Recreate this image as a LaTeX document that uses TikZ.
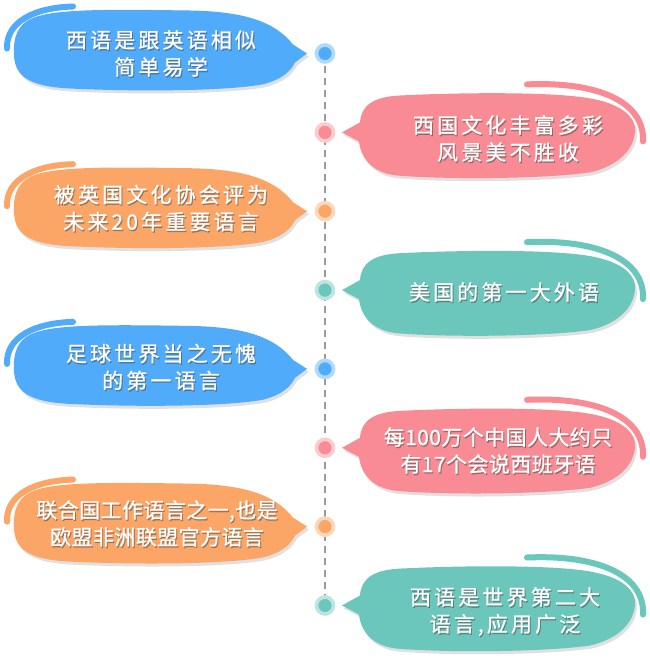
\documentclass[tikz,border=0pt]{standalone}
\usepackage{fontspec}
\newfontfamily\cjk[LetterSpace=15,FakeBold=0.9]{Noto Sans CJK SC}
\newfontfamily\cjkt[LetterSpace=2,FakeBold=0.9]{Noto Sans CJK SC}
\usetikzlibrary{backgrounds}
\definecolor{bblue}{HTML}{50ACFA}
\definecolor{bpink}{HTML}{F88B93}
\definecolor{borange}{HTML}{FBA666}
\definecolor{bteal}{HTML}{6BC6BC}
\definecolor{tlgray}{HTML}{9A9A9A}
\def\LPath{(307,0) -- (293,-9) .. controls (274,-33) and (242,-42) .. (190,-43) .. controls (120,-44) and (62,-45) .. (37,-37) .. controls (17,-31) and (13,-16) .. (14,2) .. controls (15,22) and (28,33) .. (70,35) .. controls (130,38) and (222,38) .. (262,31) .. controls (283,26) and (291,17) .. (295,9) -- cycle}
\def\RPath{(342,0) -- (360,-10) .. controls (361,-26) and (372,-36) .. (402,-37) .. controls (462,-40) and (560,-41) .. (595,-33) .. controls (624,-27) and (636,-14) .. (635,-1) .. controls (634,16) and (620,33) .. (590,40) .. controls (540,47) and (440,47) .. (396,43) .. controls (372,40) and (361,26) .. (359,9) -- cycle}
\def\LArc{(73,-47) .. controls (35,-46) and (6,-32) .. (7,-5)}
\def\RArc{(527,-48) .. controls (595,-51) and (645,-32) .. (643,9)}
\newcommand\LBub[2]{%
  \begin{scope}[shift={(0,#2)}]
    \begin{scope}[shift={(2,3)}]\fill[bubshadow] \LPath;\end{scope}
    \fill[#1] \LPath;
    \draw[arcline,#1] \LArc;
  \end{scope}}
\newcommand\RBub[2]{%
  \begin{scope}[shift={(0,#2)}]
    \begin{scope}[shift={(2,3)}]\fill[bubshadow] \RPath;\end{scope}
    \fill[#1] \RPath;
    \draw[arcline,#1] \RArc;
  \end{scope}}
\newcommand\BText[5]{%
  \node[txtshadow,font=#4] (#1s) at ([shift={(1,1.4)}]#2,#3) {#5};
  \node[txt,font=#4] (#1) at (#2,#3) {#5};}
\tikzset{
  bubshadow/.style={black,opacity=0.12},
  arcline/.style={line width=6pt,line cap=round},
  txt/.style={text=white,align=center,inner sep=0pt},
  txtshadow/.style={text=black!70,text opacity=0.5,align=center,inner sep=0pt},
  tdot/.style={circle,inner sep=0pt,minimum size=17pt,line width=3.6pt,fill=#1,draw=#1!45!white},
  timeline/.style={draw=tlgray,line width=2pt,dash pattern=on 7pt off 5pt},
}
\def\NF{\cjk\fontsize{21}{27}\selectfont}
\def\TF{\cjkt\fontsize{21}{27}\selectfont}
\begin{document}
\begin{tikzpicture}[x=1pt,y=-1pt]
\useasboundingbox (0,0) rectangle (650,659);
% bubbles
\LBub{bblue}{53.5}
\RBub{bpink}{132.4}
\LBub{borange}{211.2}
\RBub{bteal}{290.1}
\LBub{bblue}{368.9}
\RBub{bpink}{447.8}
\LBub{borange}{526.6}
\RBub{bteal}{605.5}
% dots
\node[tdot=bblue] (d1) at (325,53.5) {};
\node[tdot=bpink] (d2) at (325,132.4) {};
\node[tdot=borange] (d3) at (325,211.2) {};
\node[tdot=bteal] (d4) at (325,290.1) {};
\node[tdot=bblue] (d5) at (325,368.9) {};
\node[tdot=bpink] (d6) at (325,447.8) {};
\node[tdot=borange] (d7) at (325,526.6) {};
\node[tdot=bteal] (d8) at (325,605.5) {};
\begin{scope}[on background layer]
  \fill[white] (0,0) rectangle (650,659);
  \draw[timeline] (d1.center) -- (d8.center);
\end{scope}
% texts
\BText{t1}{161}{53.5}{\NF}{西语是跟英语相似\\简单易学}
\BText{t2}{508}{138.5}{\NF}{西国文化丰富多彩\\风景美不胜收}
\BText{t3}{161}{208}{\NF}{被英国文化协会评为\\未来20年重要语言}
\BText{t4}{504}{292}{\NF}{美国的第一大外语}
\BText{t5}{161}{367}{\NF}{足球世界当之无愧\\的第一语言}
\BText{t6}{498}{450.5}{\TF}{每100万个中国人大约只\\有17个会说西班牙语}
\BText{t7}{157}{523.5}{\TF}{联合国工作语言之一,也是\\欧盟非洲联盟官方语言}
\BText{t8}{505}{611.5}{\NF}{西语是世界第二大\\语言,应用广泛}
\end{tikzpicture}
\end{document}
